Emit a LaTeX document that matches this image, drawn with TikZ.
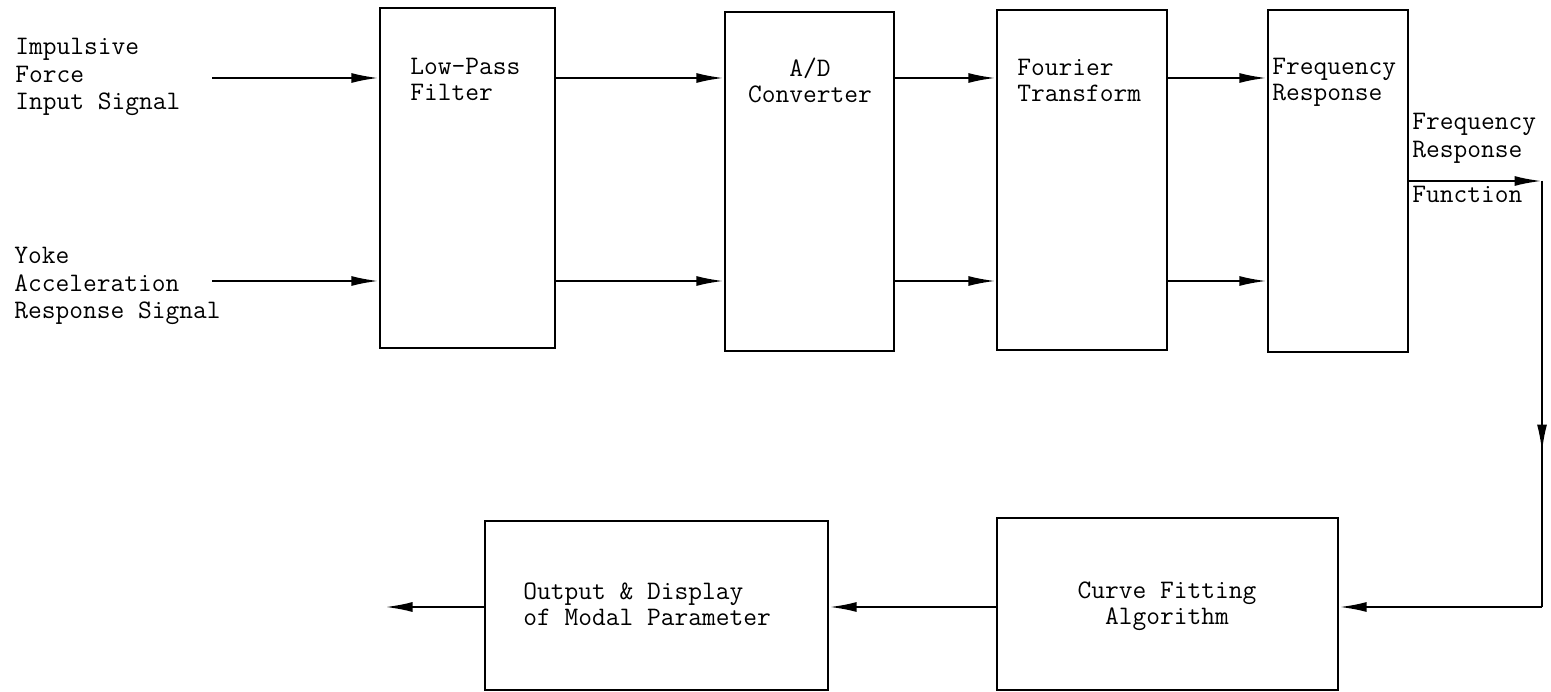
\documentclass[tikz,border=0pt]{standalone}
\usetikzlibrary{arrows.meta,fit}
\begin{document}
\begin{tikzpicture}[x=0.02cm,y=-0.02cm,
  box/.style={draw, line width=1.3pt, inner sep=0pt, rectangle},
  arr/.style={line width=1.3pt, -{Latex[length=0.55cm,width=0.2cm]}},
  ln/.style={line width=1.3pt},
  txt/.style={font=\ttfamily\fontsize{15.2}{15.6}\selectfont, inner sep=0pt, align=left},
  btxt/.style={font=\ttfamily\fontsize{15.2}{14.6}\selectfont, inner sep=0pt}]
\useasboundingbox (0,0) rectangle (1551,692);
% boxes
\node[box, fit={(380,8) (555,348)}] (lp) {};
\node[box, fit={(725,12) (894,351)}] (ad) {};
\node[box, fit={(997,10) (1167,350)}] (ft) {};
\node[box, fit={(1268,10) (1408,352)}] (fr) {};
\node[box, fit={(997,518) (1338,690)}] (cf) {};
\node[box, fit={(485,521) (828,690)}] (od) {};
% coordinates
\coordinate (in1) at (212,78);
\coordinate (in2) at (212,281);
\coordinate (c1) at (1542,181);
\coordinate (c2) at (1542,607);
\coordinate (cm) at (1542,452);
\coordinate (out) at (385,607);
% texts
\node[txt, anchor=north west] (t1) at (15,38) {Impulsive\\Force\\Input Signal};
\node[txt, anchor=north west] (t2) at (14,247) {Yoke\\Acceleration\\Response Signal};
\node[btxt, anchor=north west, align=left] (tlp) at (410,58) {Low-Pass\\Filter};
\node[btxt, anchor=north, align=center] (tad) at (810,58) {A/D\\Converter};
\node[btxt, anchor=north west, align=left] (tft) at (1017,59) {Fourier\\Transform};
\node[btxt, anchor=north west, align=left] (tfr) at (1272,58) {Frequency\\Response};
\node[txt, anchor=north west] (tfrf) at (1412,113) {Frequency\\Response};
\node[txt, anchor=north west] (tfun) at (1412,186) {Function};
\node[btxt, anchor=north west, align=left] (tod) at (523,583) {Output \& Display\\of Modal Parameter};
\node[btxt, anchor=north, align=center] (tcf) at (1167,582) {Curve Fitting\\Algorithm};
% connectors
\draw[arr] (in1) -- (in1 -| lp.west);
\draw[arr] (in2) -- (in2 -| lp.west);
\draw[arr] (lp.east |- in1) -- (ad.west |- in1);
\draw[arr] (lp.east |- in2) -- (ad.west |- in2);
\draw[arr] (ad.east |- in1) -- (ft.west |- in1);
\draw[arr] (ad.east |- in2) -- (ft.west |- in2);
\draw[arr] (ft.east |- in1) -- (fr.west |- in1);
\draw[arr] (ft.east |- in2) -- (fr.west |- in2);
\draw[arr] (fr.east |- c1) -- (c1);
\draw[ln] (c1) -- (c2);
\draw[arr] (c1) -- (cm);
\draw[arr] (c2) -- (c2 -| cf.east);
\draw[arr] (cf.west |- c2) -- (c2 -| od.east);
\draw[arr] (od.west |- c2) -- (out);
\end{tikzpicture}
\end{document}
